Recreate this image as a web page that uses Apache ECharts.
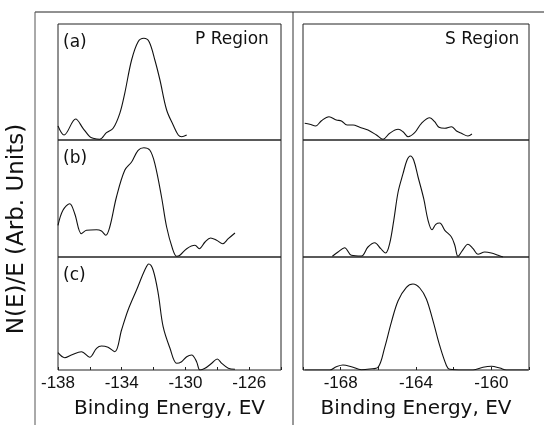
<!DOCTYPE html>
<html>
<head>
<meta charset="utf-8">
<script src="https://cdn.jsdelivr.net/npm/echarts@6/dist/echarts.min.js"></script>
<style>html,body{margin:0;padding:0;background:#fff}#c{width:544px;height:425px}</style>
</head>
<body>
<div id="c"></div>
<script>
// ---- Data (binding energy in eV, intensity in arbitrary units) ----
const panelLabels = ['(a)', '(b)', '(c)'];
const regionTitles = ['P Region', 'S Region'];
const yAxisTitle = 'N(E)/E (Arb. Units)';
const xAxisTitle = 'Binding Energy, EV';

const pTickLabels = [-138, -134, -130, -126];
const sTickLabels = [-168, -164, -160];

// P region (a)
const pA_E = [-138.0,-137.62,-136.89,-136.43,-136.01,-135.80,-135.38,-134.96,-134.54,-134.12,-133.81,-133.38,-132.97,-132.61,-132.28,-131.92,-131.60,-131.18,-130.77,-130.45,-130.24,-129.92];
const pA_I = [14,5,21,11.7,3.3,1.7,0.7,7.3,11.7,26.7,46.7,80,98.3,101.7,98.3,80,60,30,15,5,3.3,5];
// P region (b)
const pB_E = [-138.0,-137.69,-137.26,-136.95,-136.53,-136.21,-135.58,-135.27,-135.0,-134.75,-134.33,-133.81,-133.38,-132.97,-132.61,-132.23,-131.92,-131.50,-131.18,-130.81,-130.55,-130.35,-129.92,-129.40,-129.13,-128.77,-128.42,-128.04,-127.66,-127.31,-126.89];
const pB_I = [31.7,46.7,53.3,43.3,23.3,26.7,27.3,26,21.7,30,60,86.7,95,106.7,109.3,106.7,93.3,60,30,8.3,0.7,1.7,8.3,11.7,8.3,15,19,16.7,13.3,18.3,24];
// P region (c)
const pC_E = [-138.0,-137.58,-137.16,-136.53,-136.01,-135.58,-135.27,-134.86,-134.43,-134.01,-133.60,-133.07,-132.55,-132.30,-132.03,-131.71,-131.40,-130.97,-130.55,-130.24,-129.92,-129.61,-129.30,-129.09,-128.77,-128.35,-128.0,-127.72,-127.31,-126.89];
const pC_I = [17.3,12.3,15,18.3,12.7,21.7,24,22.7,18.3,40,60,80,100,106,100,76.7,43.3,21.7,6.7,8.3,13.3,15,8.3,0,1.7,6.7,11,6.7,1.7,0.7];

// S region (a)
const sA_E = [-169.91,-169.64,-169.33,-169.02,-168.62,-168.23,-167.96,-167.66,-167.34,-166.99,-166.55,-166.10,-165.75,-165.40,-164.95,-164.69,-164.42,-164.07,-163.71,-163.27,-163.01,-162.78,-162.47,-162.12,-161.85,-161.59,-161.24,-161.03];
const sA_I = [16.7,15.7,14,19.3,23.3,20,19,15,15,12.7,10,5,0.7,6.7,10.7,8.3,3.3,7.3,16.7,22.3,18.3,12.7,11.7,13.3,9,6.7,4,6];
// S region (b)
const sB_E = [-168.44,-168.14,-167.79,-167.43,-166.90,-166.55,-166.19,-165.87,-165.61,-165.40,-165.18,-164.95,-164.69,-164.48,-164.30,-164.12,-163.89,-163.59,-163.36,-163.15,-162.95,-162.74,-162.47,-162.12,-161.94,-161.77,-161.53,-161.24,-160.97,-160.71,-160.35,-160.0,-159.64,-159.38];
const sB_I = [0.7,5,9.3,1.7,1,10,14.3,8.3,4,13.3,36.7,65,83.3,96.7,101,96.7,80,58.3,36.7,27.3,32.7,34,26.7,20,11.7,0.7,6.7,12.7,8.3,2.7,5,4,1.7,0];
// S region (c)
const sC_E = [-169.91,-168.58,-168.23,-167.88,-167.43,-166.90,-166.46,-166.02,-165.66,-165.31,-164.95,-164.51,-164.16,-163.80,-163.45,-163.10,-162.74,-162.38,-162.21,-161.50,-160.97,-160.44,-160.0,-159.55,-159.20,-158.05];
const sC_I = [0,0,3.3,5,3.3,0.3,1,2.7,22.7,47.7,69.3,82.7,86,82,71,49.3,24.3,4.3,0.7,0,0,2.7,3.7,2,0,0];

// ---- Layout ----
const pRange = [-138, -124];
const sRange = [-170, -158];
const panelTops = [24, 140, 257];
const panelHeights = [116, 117, 113];
const regionLeft = [58, 303];
const regionWidth = [223, 226];

const pairs = (xs, ys) => xs.map((x, i) => [x, ys[i]]);
const seriesData = [
  [pairs(pA_E, pA_I), pairs(pB_E, pB_I), pairs(pC_E, pC_I)],
  [pairs(sA_E, sA_I), pairs(sB_E, sB_I), pairs(sC_E, sC_I)]
];
const ranges = [pRange, sRange];
const tickSets = [pTickLabels, sTickLabels];

const grids = [], xAxes = [], yAxes = [], series = [];
const FONT = '"Liberation Sans", Arial, sans-serif';
const WIDE = '"DejaVu Sans", sans-serif';
for (let r = 0; r < 2; r++) {
  for (let p = 0; p < 3; p++) {
    const idx = r * 3 + p;
    const bottom = p === 2;
    grids.push({
      left: regionLeft[r], width: regionWidth[r],
      top: panelTops[p], height: panelHeights[p],
      show: true, borderColor: '#222', borderWidth: 1, backgroundColor: 'transparent'
    });
    const labels = tickSets[r];
    xAxes.push({
      type: 'value', gridIndex: idx, min: ranges[r][0], max: ranges[r][1], interval: 2,
      axisLine: { show: false },
      splitLine: { show: false },
      axisTick: { show: bottom, inside: true, length: 3, lineStyle: { color: '#222' } },
      axisLabel: {
        show: bottom, margin: 5, color: '#111', fontFamily: FONT, fontSize: 17,
        formatter: v => labels.indexOf(v) >= 0 ? String(v) : ''
      },
      name: bottom ? xAxisTitle : '', nameLocation: 'middle', nameGap: 29,
      nameTextStyle: { color: '#111', fontFamily: WIDE, fontSize: 20 }
    });
    yAxes.push({
      type: 'value', gridIndex: idx, min: 0, max: panelHeights[p],
      show: false
    });
    series.push({
      type: 'line', xAxisIndex: idx, yAxisIndex: idx,
      data: seriesData[r][p], showSymbol: false, smooth: 0.35,
      lineStyle: { color: '#111', width: 1.1 }, silent: true, animation: false
    });
  }
}

const texts = [];
panelLabels.forEach((t, p) => {
  texts.push({ type: 'text', left: 63, top: panelTops[p] + 10,
    style: { text: t, fill: '#111', font: '17px ' + WIDE } });
});
texts.push({ type: 'text', left: 195, top: 31, style: { text: regionTitles[0], fill: '#111', font: '17px ' + WIDE } });
texts.push({ type: 'text', left: 445, top: 31, style: { text: regionTitles[1], fill: '#111', font: '17px ' + WIDE } });
texts.push({ type: 'text', x: 17, y: 229, rotation: Math.PI / 2,
  style: { text: yAxisTitle, fill: '#111', font: '23px ' + WIDE, textAlign: 'center', textVerticalAlign: 'middle' } });
// outer frame
texts.push({ type: 'line', shape: { x1: 35, y1: 12, x2: 544, y2: 12 }, style: { stroke: '#222', lineWidth: 1 } });
texts.push({ type: 'line', shape: { x1: 35, y1: 12, x2: 35, y2: 425 }, style: { stroke: '#555', lineWidth: 1 } });
texts.push({ type: 'line', shape: { x1: 293, y1: 12, x2: 293, y2: 425 }, style: { stroke: '#333', lineWidth: 1 } });

const chart = echarts.init(document.getElementById('c'), null, { renderer: 'canvas' });
chart.setOption({
  animation: false,
  backgroundColor: '#fff',
  grid: grids, xAxis: xAxes, yAxis: yAxes, series: series,
  graphic: texts
});
</script>
</body>
</html>
